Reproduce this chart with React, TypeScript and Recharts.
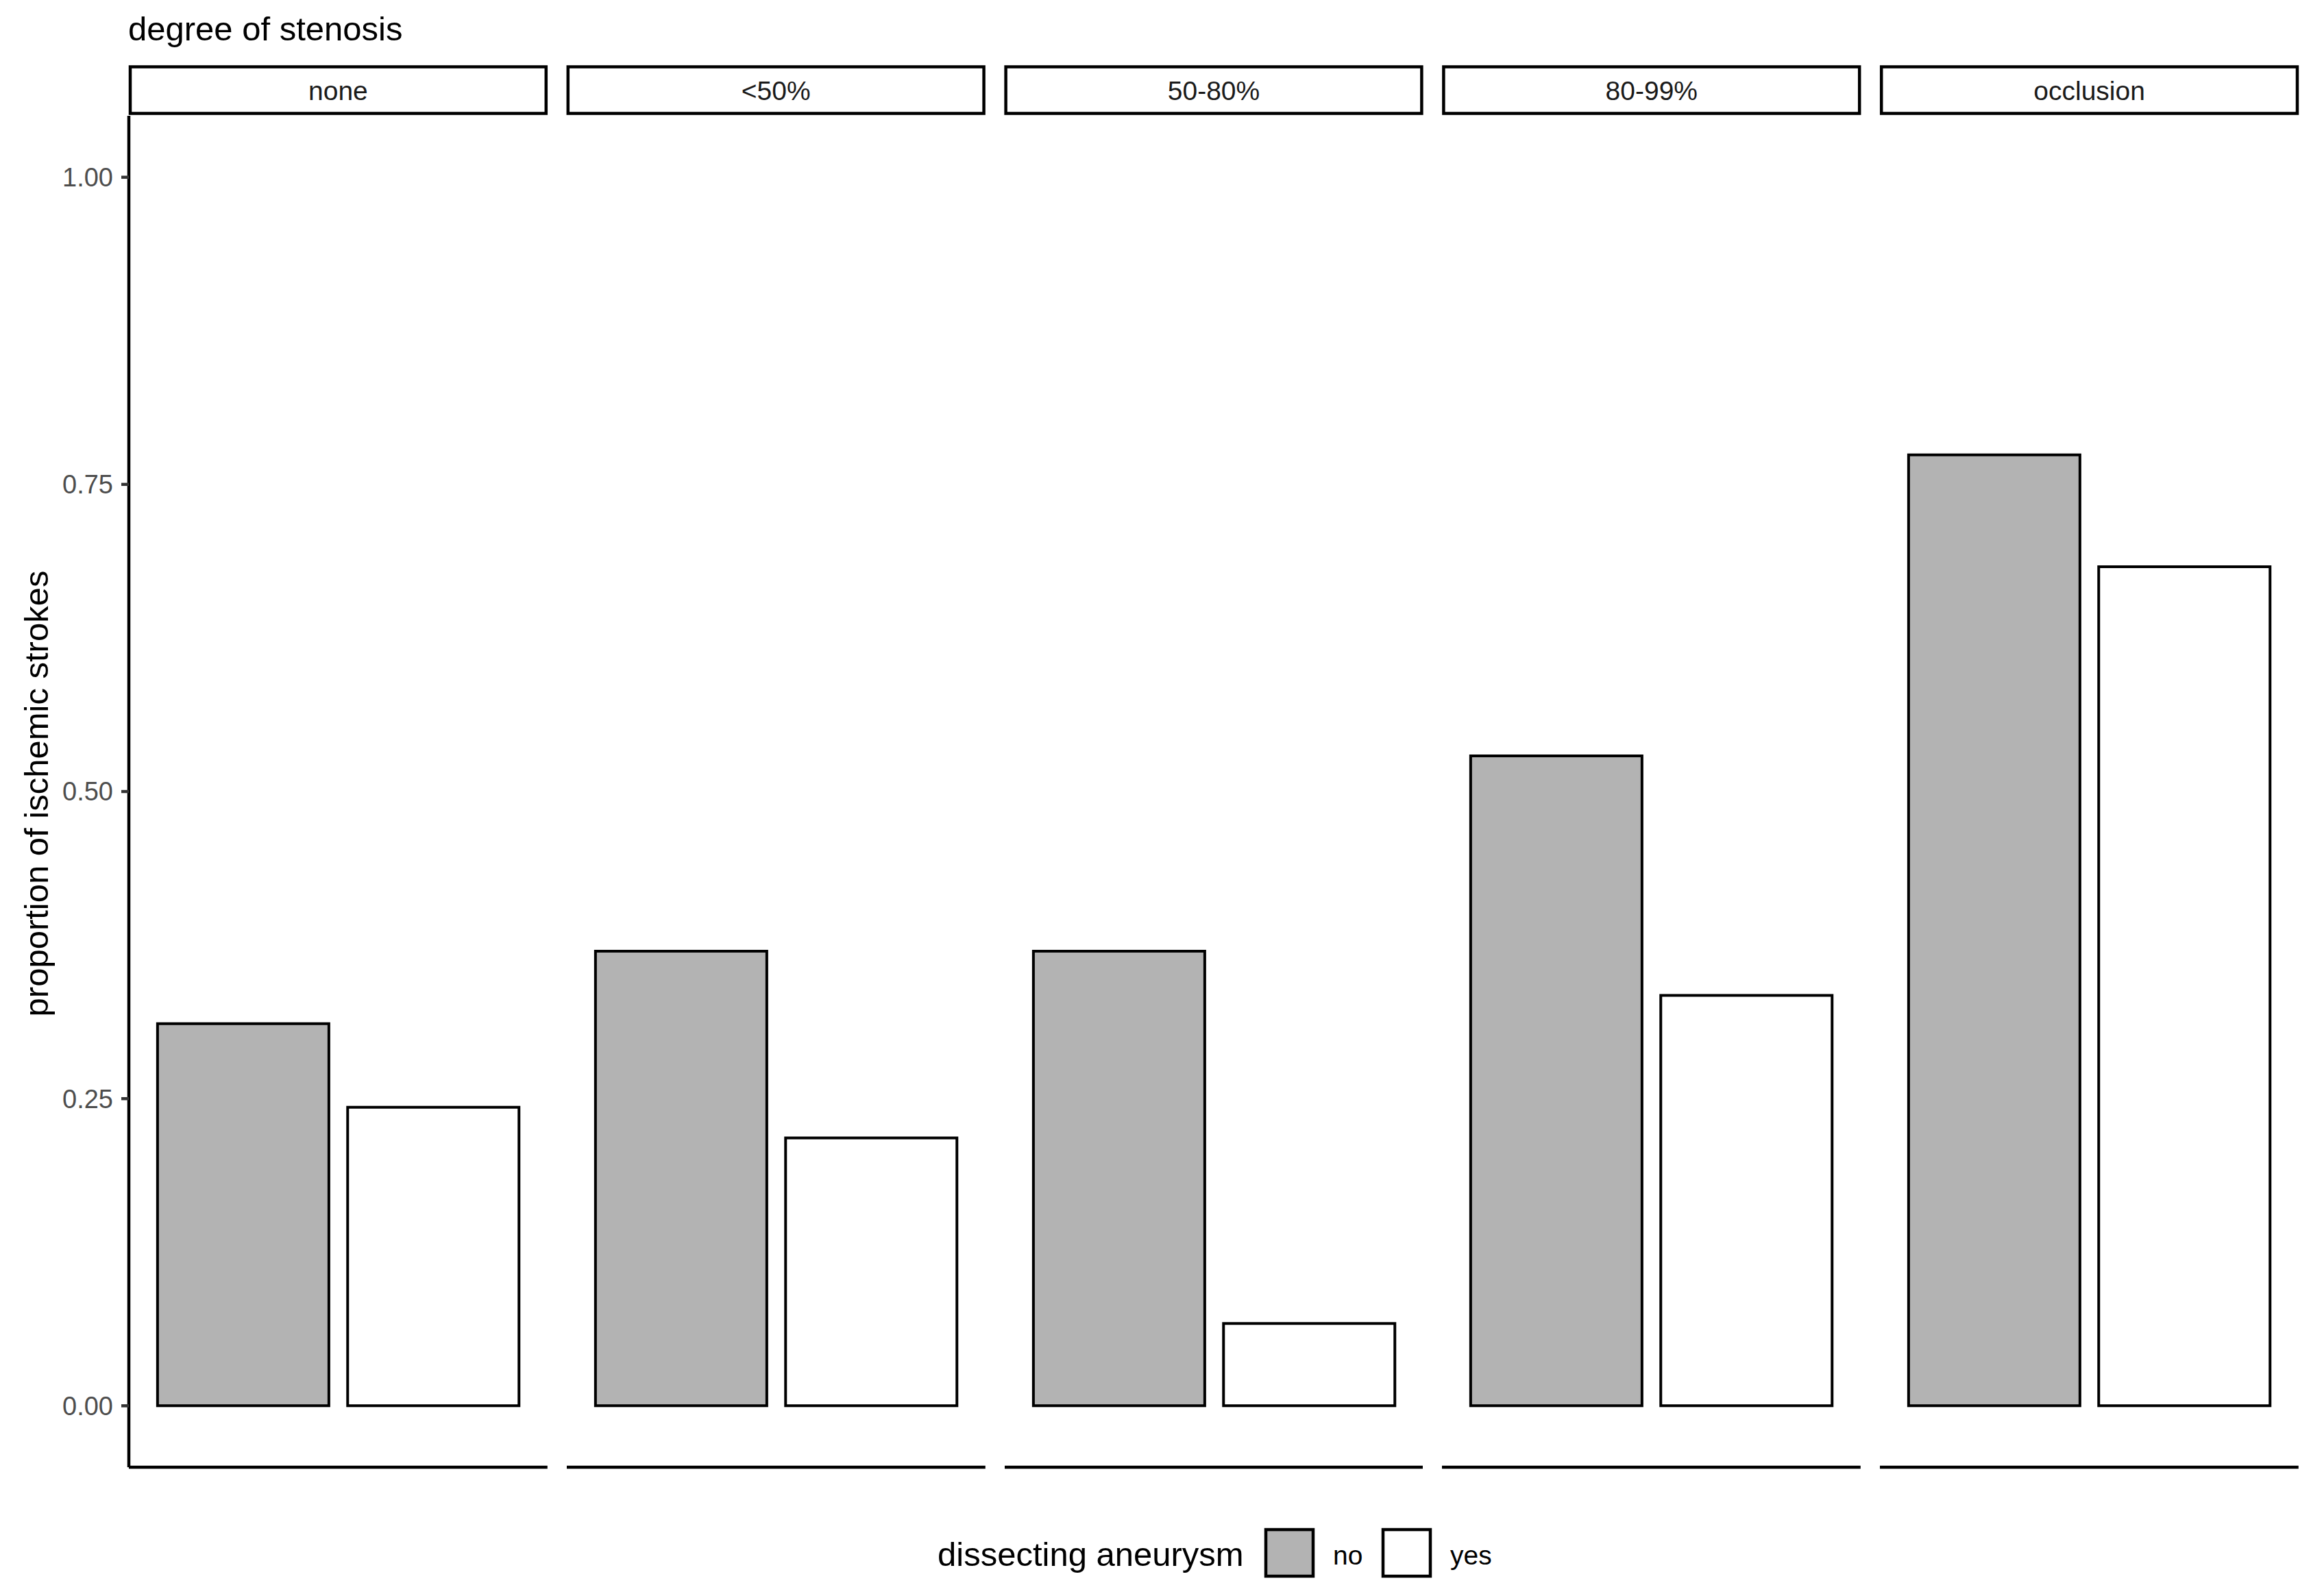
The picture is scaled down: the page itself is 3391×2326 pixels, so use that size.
import React from 'react';
import { BarChart, Bar, XAxis, YAxis, Cell } from 'recharts';

// facet levels (degree of stenosis) and bar groups (dissecting aneurysm)
const stenosisLevels = ['none', '<50%', '50-80%', '80-99%', 'occlusion'];
const aneurysmLevels = ['no', 'yes'];

// proportion of ischemic strokes, one value per stenosis level
const propNo = [0.311, 0.37, 0.37, 0.529, 0.774];
const propYes = [0.243, 0.218, 0.067, 0.334, 0.683];

const yTicks = [0, 0.25, 0.5, 0.75, 1];
const fills = ['#B3B3B3', '#FFFFFF'];

const FONT = '"Liberation Sans", Arial, Helvetica, sans-serif';
const W = 3391;
const H = 2326;
const PLOT_LEFT = 188;
const PANEL_W = 610.8;
const PANEL_GAP = 28;
const PLOT_TOP = 169;
const PLOT_BOTTOM = 2141;
const STROKE = 4.5;

const panelX = (i: number) => PLOT_LEFT + i * (PANEL_W + PANEL_GAP);

const Panel = ({ index }: { index: number }) => {
  const data = aneurysmLevels.map((a, j) => ({
    aneurysm: a,
    proportion: j === 0 ? propNo[index] : propYes[index],
  }));
  const first = index === 0;
  const yW = first ? PLOT_LEFT : 0;
  return (
    <div style={{ position: 'absolute', left: panelX(index) - yW, top: 0 }}>
      <BarChart
        width={PANEL_W + yW}
        height={H}
        data={data}
        margin={{ top: PLOT_TOP, right: 0, bottom: H - PLOT_BOTTOM - 1, left: 0 }}
        barCategoryGap="5%"
      >
        {/* height must be > 0 or recharts skips the axis line */}
        <XAxis
          dataKey="aneurysm"
          type="category"
          padding={{ left: 28, right: 28 }}
          height={1}
          tick={false}
          tickLine={false}
          axisLine={{ stroke: '#000', strokeWidth: STROKE }}
        />
        <YAxis
          hide={!first}
          width={yW}
          type="number"
          domain={[-0.05, 1.05]}
          allowDataOverflow
          ticks={yTicks}
          interval={0}
          tickFormatter={(v: number) => v.toFixed(2)}
          tick={{ fontSize: 38, fill: '#4D4D4D', fontFamily: FONT }}
          tickSize={11}
          tickMargin={12}
          tickLine={{ stroke: '#333333', strokeWidth: STROKE }}
          axisLine={{ stroke: '#000', strokeWidth: STROKE }}
        />
        <Bar dataKey="proportion" isAnimationActive={false}>
          {data.map((d, j) => (
            <Cell key={d.aneurysm} fill={fills[j]} stroke="#000" strokeWidth={4} />
          ))}
        </Bar>
      </BarChart>
    </div>
  );
};

export default function App() {
  return (
    <div
      style={{
        position: 'absolute',
        left: 0,
        top: 0,
        width: W,
        height: H,
        background: '#fff',
        fontFamily: FONT,
      }}
    >
      {stenosisLevels.map((s, i) => (
        <Panel key={s} index={i} />
      ))}
      <svg
        width={W}
        height={H}
        style={{ position: 'absolute', left: 0, top: 0, pointerEvents: 'none' }}
      >
        <text x={187} y={59} fontSize={49} fontFamily={FONT} fill="#000">
          degree of stenosis
        </text>
        {stenosisLevels.map((s, i) => (
          <g key={s}>
            <rect
              x={panelX(i) + 2}
              y={97.5}
              width={PANEL_W - 4}
              height={68}
              fill="#fff"
              stroke="#000"
              strokeWidth={4.5}
            />
            <text
              x={panelX(i) + PANEL_W / 2}
              y={146}
              textAnchor="middle"
              fontSize={39}
              fontFamily={FONT}
              fill="#1A1A1A"
            >
              {s}
            </text>
          </g>
        ))}
        <text
          transform="translate(70,1158) rotate(-90)"
          textAnchor="middle"
          fontSize={49}
          fontFamily={FONT}
          fill="#000"
        >
          proportion of ischemic strokes
        </text>
        <text x={1368} y={2285} fontSize={49} fontFamily={FONT} fill="#000">
          dissecting aneurysm
        </text>
        {aneurysmLevels.map((a, j) => {
          const kx = 1847 + j * 171;
          return (
            <g key={a}>
              <rect
                x={kx}
                y={2232}
                width={69}
                height={68}
                fill={fills[j]}
                stroke="#000"
                strokeWidth={4.5}
              />
              <text x={kx + 98} y={2283} fontSize={39} fontFamily={FONT} fill="#000">
                {a}
              </text>
            </g>
          );
        })}
      </svg>
    </div>
  );
}
